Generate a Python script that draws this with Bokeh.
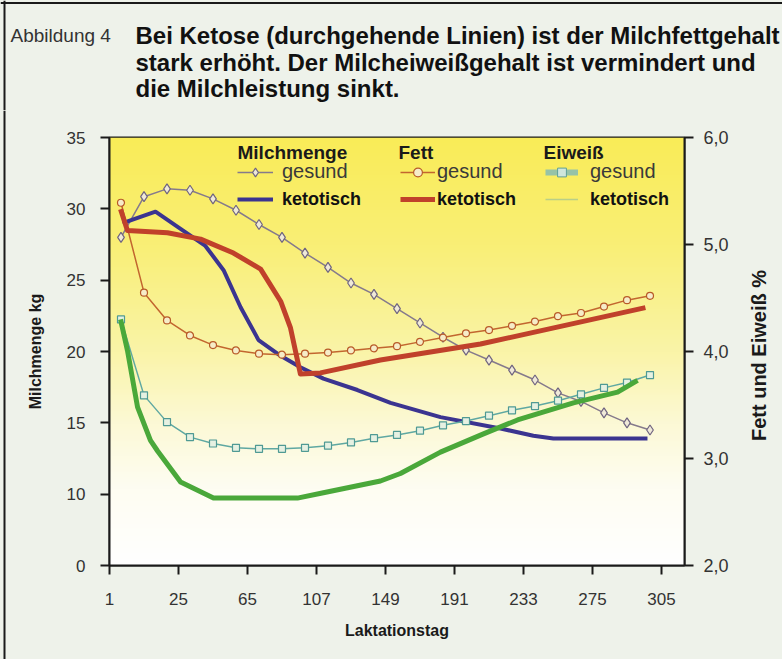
import math
import numpy as np
from bokeh.plotting import figure
from bokeh.layouts import column, row
from bokeh.models import Range1d, LinearAxis, FixedTicker, Label, Legend, LegendItem, Span
from bokeh.embed import file_html
from bokeh.resources import INLINE

# ---------------- data ----------------
# x = measuring point index (three measuring points per labelled tick interval)
tick_pos = [0.5, 3.5, 6.5, 9.5, 12.5, 15.5, 18.5, 21.5, 24.5]
tick_labels = ["1", "25", "65", "107", "149", "191", "233", "275", "305"]

punkt = [1, 2, 3, 4, 5, 6, 7, 8, 9, 10, 11, 12, 13, 14, 15, 16, 17, 18, 19, 20, 21, 22, 23, 24]

# healthy cows (with markers)
milch_gesund = [28.0, 30.85, 31.4, 31.3, 30.7, 29.9, 28.9, 28.0, 26.9, 25.9, 24.8, 24.0,
                23.0, 22.0, 21.0, 20.1, 19.4, 18.7, 18.0, 17.1, 16.5, 15.7, 15.0, 14.5]
fett_gesund = [5.39, 4.55, 4.29, 4.15, 4.06, 4.01, 3.98, 3.97, 3.98, 3.99, 4.01, 4.03,
               4.05, 4.09, 4.13, 4.17, 4.20, 4.24, 4.28, 4.33, 4.36, 4.42, 4.48, 4.52]
eiweiss_gesund = [4.30, 3.59, 3.34, 3.20, 3.14, 3.10, 3.09, 3.09, 3.10, 3.12, 3.15, 3.19,
                  3.22, 3.26, 3.31, 3.35, 3.40, 3.45, 3.49, 3.54, 3.60, 3.66, 3.71, 3.78]

# ketotic cows (solid lines)
milch_ket_x = [1.07, 2.5, 3.59, 4.67, 5.46, 6.2, 6.98, 7.94, 8.8, 9.8, 11.28, 12.72,
               14.89, 17.5, 18.93, 19.8, 23.89]
milch_ket = [29.0, 29.8, 28.6, 27.4, 25.7, 23.1, 20.8, 19.7, 18.9, 18.1, 17.3, 16.4,
             15.4, 14.6, 14.1, 13.9, 13.9]
fett_ket_x = [0.98, 1.28, 3.02, 4.46, 5.89, 7.07, 7.94, 8.37, 8.59, 8.8, 9.67, 12.28,
              16.63, 23.8]
fett_ket = [5.33, 5.13, 5.11, 5.05, 4.92, 4.77, 4.47, 4.22, 4.00, 3.79, 3.80, 3.92,
            4.07, 4.41]
eiweiss_ket_x = [0.98, 1.28, 1.72, 2.28, 2.59, 3.59, 5.02, 8.67, 9.8, 12.28, 13.15,
                 14.89, 16.76, 18.24, 20.67, 22.59, 23.46]
eiweiss_ket = [4.30, 4.01, 3.48, 3.17, 3.07, 2.78, 2.63, 2.63, 2.68, 2.79, 2.86,
               3.06, 3.23, 3.36, 3.52, 3.62, 3.73]

kg_ticks = [5, 10, 15, 20, 25, 30, 35]
kg_labels = ["0", "10", "15", "20", "25", "30", "35"]
pct_ticks = [2, 3, 4, 5, 6]
pct_labels = ["2,0", "3,0", "4,0", "5,0", "6,0"]

caption_nr = "Abbildung 4"
caption = ["Bei Ketose (durchgehende Linien) ist der Milchfettgehalt",
           "stark erhöht. Der Milcheiweißgehalt ist vermindert und",
           "die Milchleistung sinkt."]

FONT = "Liberation Sans"
PAPER = "#eef2ea"
EDGE = "#1a1a1a"
W = 782
TOP_H = 110
H = 659 - TOP_H
STRIP_W = 8
SIDE_W = 42
MAIN_W = W - SIDE_W - STRIP_W


def bare(fig):
    if "frame_align" in fig.properties():
        fig.frame_align = False
    fig.border_fill_color = PAPER
    fig.background_fill_color = PAPER
    fig.outline_line_color = None
    fig.xgrid.visible = False
    fig.ygrid.visible = False


def blank(w, h):
    fig = figure(width=w, height=h, output_backend="svg", toolbar_location=None,
                 x_range=Range1d(0, w), y_range=Range1d(0, h),
                 x_axis_location=None, y_axis_location=None, min_border=0,
                 min_border_left=0, min_border_right=0, min_border_top=0, min_border_bottom=0)
    bare(fig)
    return fig


# ---------------- caption figure ----------------
cap = blank(W, TOP_H)
cap.add_layout(Span(location=TOP_H - 2.5, dimension="width", line_color=EDGE, line_width=2))
cap.add_layout(Span(location=4, dimension="height", line_color=EDGE, line_width=2))
cap.add_layout(Label(x=10, y=TOP_H - 35, x_units="screen", y_units="screen", text=caption_nr,
                     text_font=FONT, text_font_size="19px", text_color="#333333",
                     text_baseline="alphabetic"))
for i, line in enumerate(caption):
    cap.add_layout(Label(x=135, y=TOP_H - 35 - 26.5 * i, x_units="screen", y_units="screen",
                         text=line, text_font=FONT, text_font_size="24px",
                         text_font_style="bold", text_color="#111111",
                         text_baseline="alphabetic"))

# left edge strip
strip = blank(STRIP_W, H)
strip.add_layout(Span(location=4, dimension="height", line_color=EDGE, line_width=2))

# ---------------- chart figure ----------------
p = figure(width=MAIN_W, height=H, output_backend="svg", toolbar_location=None,
           x_range=Range1d(0.5, 25.5), y_range=Range1d(5, 35),
           min_border_left=109 - STRIP_W, min_border_right=STRIP_W + MAIN_W - 684,
           min_border_top=137 - TOP_H, min_border_bottom=94)
if "frame_align" in p.properties():
    p.frame_align = False
p.border_fill_color = PAPER
p.background_fill_color = "white"
p.outline_line_color = EDGE
p.outline_line_width = 2
p.xgrid.visible = False
p.ygrid.visible = False
p.extra_y_ranges = {"pct": Range1d(2, 6)}

# yellow-to-white background gradient inside the frame
N = 256
f = np.linspace(0, 1, N)
stops_f = [0.0, 0.18, 0.33, 0.5, 0.75, 1.0]
stops_rgb = [(255, 255, 255), (254, 253, 242), (252, 249, 214), (250, 244, 168),
             (249, 239, 118), (249, 236, 88)]
img = np.empty((N, 2), dtype=np.uint32)
view = img.view(dtype=np.uint8).reshape((N, 2, 4))
for c in range(3):
    view[:, :, c] = np.interp(f, stops_f, [s[c] for s in stops_rgb])[:, None].astype(np.uint8)
view[:, :, 3] = 255
p.image_rgba(image=[img], x=0.5, y=5, dw=25, dh=30)


def style_axis(ax, size="17px"):
    ax.axis_line_width = 2
    ax.axis_line_color = EDGE
    ax.major_tick_line_width = 2
    ax.major_tick_line_color = EDGE
    ax.major_tick_out = 9
    ax.major_tick_in = 0
    ax.minor_tick_line_color = None
    ax.major_label_text_font = FONT
    ax.major_label_text_font_size = size
    ax.major_label_text_color = "#333333"
    ax.axis_label_text_font = FONT
    ax.axis_label_text_font_style = "bold"
    ax.axis_label_text_font_size = "16px"
    ax.axis_label_text_color = EDGE


xa = p.xaxis[0]
style_axis(xa)
xa.ticker = FixedTicker(ticks=tick_pos)
xa.major_label_overrides = {t: l for t, l in zip(tick_pos, tick_labels)}
xa.major_label_standoff = 18
xa.axis_label = "Laktationstag"
xa.axis_label_standoff = 14

ya = p.yaxis[0]
style_axis(ya)
ya.ticker = FixedTicker(ticks=kg_ticks)
ya.major_label_overrides = {t: l for t, l in zip(kg_ticks, kg_labels)}
ya.major_label_standoff = 15
ya.axis_label = "Milchmenge kg"
ya.axis_label_standoff = 20

ra = LinearAxis(y_range_name="pct", ticker=FixedTicker(ticks=pct_ticks))
style_axis(ra, "18px")
ra.major_label_overrides = {t: l for t, l in zip(pct_ticks, pct_labels)}
ra.major_label_standoff = 10
p.add_layout(ra, "right")

# ---------------- series ----------------
r_mg_l = p.line(punkt, milch_gesund, line_color="#857a8c", line_width=1.5)
r_mg_m = p.scatter(punkt, milch_gesund, marker="diamond", size=10, line_color="#6f6480",
                   fill_color="#efe9d8", line_width=1.2)
r_mk = p.line(milch_ket_x, milch_ket, line_color="#3b3490", line_width=4, line_join="round")

r_fg_l = p.line(punkt, fett_gesund, y_range_name="pct", line_color="#c2662f", line_width=1.5)
r_fg_m = p.scatter(punkt, fett_gesund, y_range_name="pct", marker="circle", size=7,
                   line_color="#b85a28", fill_color="#f6ecc8", line_width=1.2)
r_fk = p.line(fett_ket_x, fett_ket, y_range_name="pct", line_color="#c0412b",
              line_width=5, line_join="round")

r_eg_l = p.line(punkt, eiweiss_gesund, y_range_name="pct", line_color="#5fa8a2", line_width=1.5)
r_eg_m = p.scatter(punkt, eiweiss_gesund, y_range_name="pct", marker="square", size=7,
                   line_color="#4f9a94", fill_color="#e6f1e2", line_width=1.2)
r_ek = p.line(eiweiss_ket_x, eiweiss_ket, y_range_name="pct", line_color="#4aa83a",
              line_width=5, line_join="round")

# key swatches for the protein entries, styled as printed in the key (no visible data)
r_eg_key = p.line(x=[float("nan")], y=[float("nan")], line_color="#86bcb4", line_width=6,
                  line_alpha=0.85)
r_eg_key_m = p.scatter(x=[float("nan")], y=[float("nan")], marker="square", size=6,
                       line_color="#5e9f98", fill_color="#cfe6dc")
r_ek_key = p.line(x=[float("nan")], y=[float("nan")], line_color="#b9cf88", line_width=1.5)


# ---------------- key ----------------
def add_key(renderers, label, x, y, gw, standoff, bold, size):
    lg = Legend(items=[LegendItem(label=label, renderers=renderers)], location=(x, y),
                padding=0, margin=0, spacing=0, glyph_width=gw, glyph_height=22,
                label_height=22, label_standoff=standoff,
                label_text_font=FONT, label_text_font_size=size,
                label_text_font_style="bold" if bold else "normal",
                label_text_color="#111111" if bold else "#3a3a3a",
                background_fill_alpha=0, border_line_alpha=0)
    p.add_layout(lg, "center")


add_key([r_mg_l, r_mg_m], "gesund", 128, 382, 36, 9, False, "20px")
add_key([r_mk], "ketotisch", 128, 355, 36, 9, True, "18px")
add_key([r_fg_l, r_fg_m], "gesund", 291, 382, 35, 2, False, "20px")
add_key([r_fk], "ketotisch", 291, 355, 35, 2, True, "18px")
add_key([r_eg_key, r_eg_key_m], "gesund", 436, 382, 33, 12, False, "20px")
add_key([r_ek_key], "ketotisch", 436, 355, 33, 12, True, "18px")

for txt, x in [("Milchmenge", 128), ("Fett", 289), ("Eiweiß", 434)]:
    p.add_layout(Label(x=x, y=413, x_units="screen", y_units="screen", text=txt,
                       text_font=FONT, text_font_size="19px", text_font_style="bold",
                       text_color="#1a1a1a", text_baseline="middle", text_align="left"))

# ---------------- right axis title (reads bottom to top) ----------------
side = blank(SIDE_W, H)
side.add_layout(Label(x=758 - (W - SIDE_W), y=H - (355 - TOP_H), x_units="screen",
                      y_units="screen", text="Fett und Eiweiß %", angle=math.pi / 2,
                      text_font=FONT, text_font_size="20px", text_font_style="bold",
                      text_color="#1a1a1a", text_baseline="middle", text_align="center"))

body = row(strip, p, side, spacing=0, styles={"background-color": PAPER})
layout = column(cap, body, spacing=0, styles={"background-color": PAPER})
open("out.html", "w").write(file_html(layout, INLINE))
